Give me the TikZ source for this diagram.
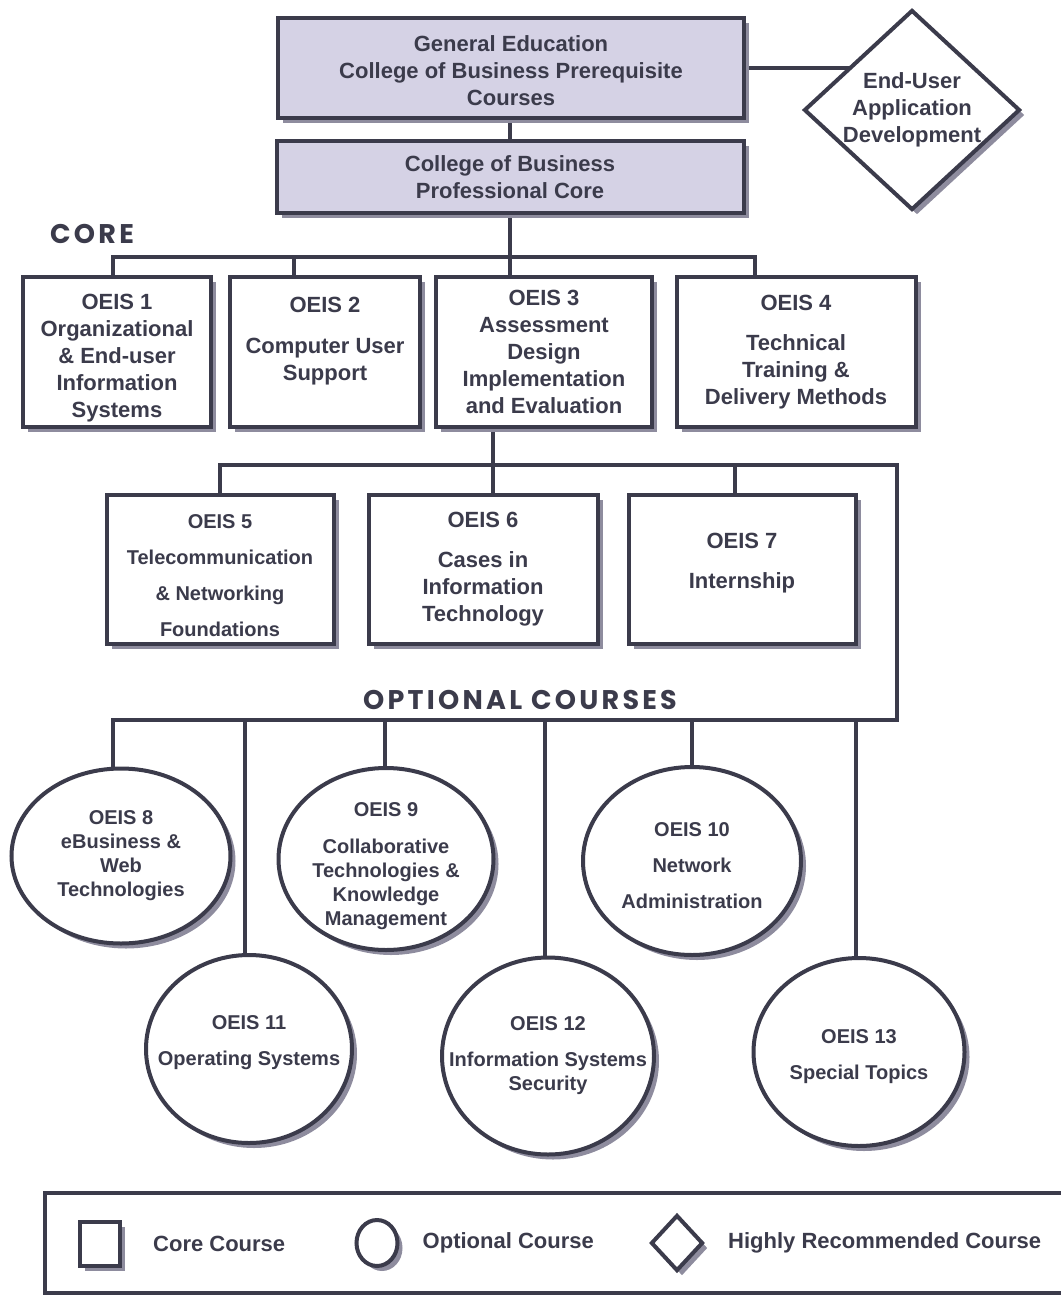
\documentclass[tikz,border=0pt]{standalone}
\usepackage{fontspec}
\setmainfont{Liberation Sans}
\newfontfamily\headfont[LetterSpace=12]{Poppins}
\usetikzlibrary{positioning,shapes.geometric,shadows,backgrounds}
\definecolor{oeisink}{HTML}{3B3B4B}
\definecolor{oeislilac}{HTML}{D5D2E5}
\definecolor{oeisshade}{HTML}{8E8C9E}
% empty line used to push a node text up or down
\newcommand\padline{\mbox{}}

\begin{document}
\begin{tikzpicture}[x=1pt, y=-1pt,
  boxshadow/.style={drop shadow={shadow xshift=5pt, shadow yshift=-5pt,
              fill=oeisshade, opacity=1}},
  course/.style={draw=oeisink, line width=4pt, fill=white, text=oeisink,
              align=center, inner sep=0pt, boxshadow,
              font=\bfseries\fontsize{22}{27}\selectfont},
  corebox/.style={course, rectangle},
  prereq/.style={corebox, fill=oeislilac},
  optcirc/.style={course, ellipse, inner sep=-30pt,
              font=\bfseries\fontsize{20}{24}\selectfont},
  recdiam/.style={course, diamond, inner sep=-20pt},
  widelines/.style={font=\bfseries\fontsize{20}{36}\selectfont},
  link/.style={draw=oeisink, line width=3.5pt},
  heading/.style={text=oeisink, inner sep=0pt, font=\headfont\bfseries\fontsize{27}{30}\selectfont},
  legtext/.style={text=oeisink, inner sep=0pt, font=\bfseries\fontsize{22}{27}\selectfont}
]
\useasboundingbox (0,0) rectangle (1060,1297);

% prerequisites
\node[prereq, minimum width=466, minimum height=100] (top) at (511,68)
  {\padline\\[-5pt]General Education\\College of Business Prerequisite\\Courses};
\node[prereq, minimum width=467, minimum height=72] (pro) at (510,177)
  {College of Business\\Professional Core};
\node[recdiam, minimum width=216, minimum height=200] (eud) at (912,110)
  {End-User\\Application\\Development};

% core courses
\node[heading] (corelbl) at (92,234) {CORE};
\node[corebox, minimum width=188, minimum height=150] (c1) at (117,352)
  {\padline\\[1pt]OEIS 1\\Organizational\\\& End-user\\Information\\Systems};
\node[corebox, minimum width=190, minimum height=150] (c2) at (325,352)
  {OEIS 2\\[14pt]Computer User\\Support\\\padline};
\node[corebox, minimum width=216, minimum height=150] (c3) at (544,352)
  {OEIS 3\\Assessment\\Design\\Implementation\\and Evaluation};
\node[corebox, minimum width=239, minimum height=150] (c4) at (796,352)
  {OEIS 4\\[13pt]Technical\\Training \&\\Delivery Methods};

\node[corebox, widelines, minimum width=227, minimum height=149] (c5) at (220,569)
  {\padline\\[-9pt]OEIS 5\\Telecommunication\\\& Networking\\Foundations};
\node[corebox, minimum width=229, minimum height=149] (c6) at (483,569)
  {OEIS 6\\[13pt]Cases in\\Information\\Technology};
\node[corebox, minimum width=227, minimum height=149] (c7) at (742,569)
  {OEIS 7\\[13pt]Internship\\[-10pt]\padline};

% optional courses
\node[heading] (optlbl) at (520,700) {OPTIONAL COURSES};
\node[optcirc, minimum width=219, minimum height=175] (o8) at (121,856)
  {OEIS 8\\eBusiness \&\\Web\\Technologies};
\node[optcirc, minimum width=215, minimum height=182] (o9) at (386,859)
  {\padline\\[5pt]OEIS 9\\[13pt]Collaborative\\Technologies \&\\Knowledge\\Management};
\node[optcirc, widelines, minimum width=218, minimum height=188] (o10) at (692,861)
  {\padline\\[-13pt]OEIS 10\\Network\\Administration};
\node[optcirc, widelines, minimum width=206, minimum height=188] (o11) at (249,1049)
  {OEIS 11\\Operating Systems\\[-20pt]\padline};
\node[optcirc, minimum width=212, minimum height=197] (o12) at (548,1056)
  {OEIS 12\\[12pt]Information Systems\\Security};
\node[optcirc, widelines, minimum width=211, minimum height=188] (o13) at (859,1052)
  {\padline\\[-13pt]OEIS 13\\Special Topics};

% bus points
\coordinate (cbL) at (113,257); \coordinate (cb2) at (294,257);
\coordinate (cbR) at (755,257);
\coordinate (mbL) at (220,465); \coordinate (mb6) at (493,465);
\coordinate (mb7) at (735,465); \coordinate (mbR) at (897,465);
\coordinate (obR) at (897,720); \coordinate (obL) at (113,720);
\coordinate (ob11) at (245,720); \coordinate (ob9) at (385,720);
\coordinate (ob12) at (545,720); \coordinate (ob10) at (692,720);
\coordinate (ob13) at (856,720);

\begin{scope}[on background layer]
\draw[link] (pro |- top) -- (pro); \draw[link] (top.east) -- (top.east -| eud);
\draw[link] (pro) -- (pro |- c3);
\draw[link] (cbL |- c1) -- (cbL) -- (cbR) -- (cbR |- c4);
\draw[link] (cb2) -- (cb2 |- c2);
\draw[link] (mb6 |- c3) -- (mb6 |- c6);
\draw[link] (mbL |- c5) -- (mbL) -- (mbR) -- (obR) -- (obL) -- (obL |- o8);
\draw[link] (mb7) -- (mb7 |- c7);
\draw[link] (ob11) -- (ob11 |- o11); \draw[link] (ob9) -- (ob9 |- o9);
\draw[link] (ob12) -- (ob12 |- o12); \draw[link] (ob10) -- (ob10 |- o10);
\draw[link] (ob13) -- (ob13 |- o13);
\end{scope}

% legend
\draw[link] (45,1193) rectangle (1080,1293);
\node[corebox, minimum width=40, minimum height=44] (legcore) at (100,1244) {};
\node[legtext, right=31pt of legcore] (legcoret) {Core Course};
\node[optcirc, minimum width=41, minimum height=46] (legopt) at (377,1243) {};
\node[legtext, right=23pt of legopt] (legoptt) {Optional Course};
\node[recdiam, minimum width=52, minimum height=56] (legrec) at (677,1243) {};
\node[legtext, right=23pt of legrec] (legrect) {Highly Recommended Course};
\end{tikzpicture}
\end{document}
